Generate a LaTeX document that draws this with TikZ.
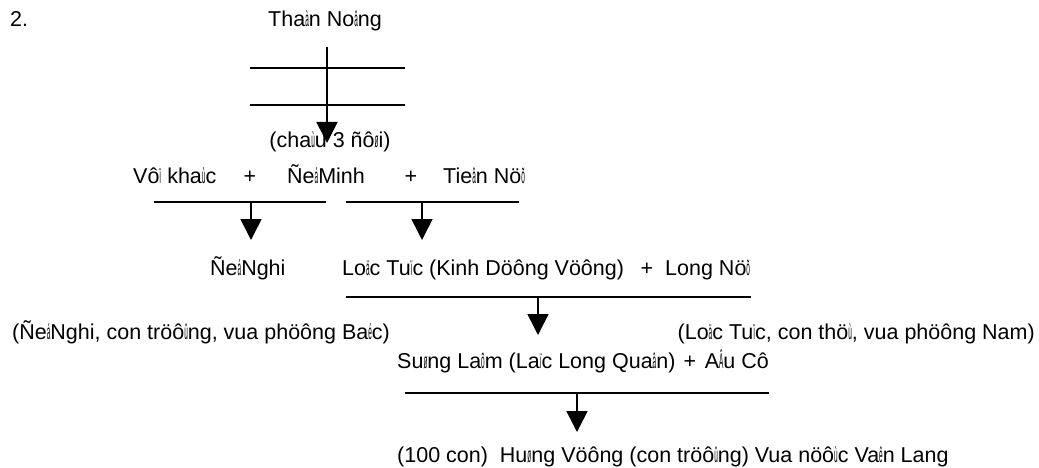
\documentclass[tikz,border=0pt]{standalone}
\usepackage{fontspec}
\usepackage{graphicx}
\setmainfont{Liberation Sans}
\usetikzlibrary{arrows.meta}
% narrow combining-mark glyph of the VNI text
\newcommand\sq[1]{\scalebox{0.3}[1]{#1}}
\begin{document}
\begin{tikzpicture}[x=1pt,y=-1pt,
  lbl/.style={inner sep=0pt,font=\fontsize{21.5}{24}\selectfont},
  bar/.style={line width=1.6pt},
  arr/.style={line width=1.6pt,-{Triangle[width=21pt,length=21pt]}}]
\fill[white] (0,0) rectangle (1039,468);
\useasboundingbox (0,0) rectangle (1039,468);

% generation 0
\node[lbl,anchor=base west] (num) at (10,27) {2.};
\node[lbl,anchor=base] (than) at (325,27) {Tha\sq{à}n No\sq{â}ng};
\coordinate (t0) at (327,47);
\coordinate (b0a) at (250,68);  \coordinate (b0b) at (405,68);
\coordinate (b0c) at (250,105); \coordinate (b0d) at (405,105);
\coordinate (h0) at (327,143);
\draw[bar] (b0a) -- (b0b);
\draw[bar] (b0c) -- (b0d);
\draw[arr] (t0) -- (h0);
\node[lbl,anchor=base] (chau) at (330,148) {(cha\sq{ù}u 3 ñô\sq{ø}i)};

% generation 1
\node[lbl,anchor=base west] (vokhac) at (133,183) {Vô\sq{ï} kha\sq{ù}c};
\node[lbl,anchor=base] (plusa) at (250,183) {+};
\node[lbl,anchor=base west] (deminh) at (287,183) {Ñe\sq{á}Minh};
\node[lbl,anchor=base] (plusb) at (411,183) {+};
\node[lbl,anchor=base west] (tiennu) at (443,183) {Tie\sq{â}n Nö\sq{õ}};

\coordinate (b1a) at (154,202); \coordinate (b1b) at (326,202);
\coordinate (b2a) at (346,202); \coordinate (b2b) at (519,202);
\coordinate (m1) at (251,202);  \coordinate (h1) at (251,240);
\coordinate (m2) at (422,202);  \coordinate (h2) at (422,240);
\draw[bar] (b1a) -- (b1b);
\draw[bar] (b2a) -- (b2b);
\draw[arr] (m1) -- (h1);
\draw[arr] (m2) -- (h2);

% generation 2
\node[lbl,anchor=base west] (denghi) at (210,275) {Ñe\sq{á}Nghi};
\node[lbl,anchor=base west] (loctuc) at (342,275) {Lo\sq{ä}c Tu\sq{ï}c (Kinh Döông Vöông)};
\node[lbl,anchor=base] (plusc) at (647,275) {+};
\node[lbl,anchor=base west] (longnu) at (665,275) {Long Nö\sq{õ}};

\coordinate (b3a) at (346,297); \coordinate (b3b) at (751,297);
\coordinate (m3) at (538,297);  \coordinate (h3) at (538,335);
\draw[bar] (b3a) -- (b3b);
\draw[arr] (m3) -- (h3);

\node[lbl,anchor=base west] (notel) at (12,339) {(Ñe\sq{á}Nghi, con tröô\sq{û}ng, vua phöông Ba\sq{é}c)};
\node[lbl,anchor=base east] (noter) at (1035,339) {(Lo\sq{ä}c Tu\sq{ï}c, con thö\sq{ù}, vua phöông Nam)};

% generation 3
\node[lbl,anchor=base west] (sunglam) at (397,368) {Su\sq{ø}ng La\sq{õ}m (La\sq{ï}c Long Qua\sq{â}n)};
\node[lbl,anchor=base] (plusd) at (690,368) {+};
\node[lbl,anchor=base east] (auco) at (769,368) {A\sq{Â}u Cô};

\coordinate (b4a) at (405,393); \coordinate (b4b) at (769,393);
\coordinate (m4) at (577,393);  \coordinate (h4) at (577,432);
\draw[bar] (b4a) -- (b4b);
\draw[arr] (m4) -- (h4);

% generation 4
\node[lbl,anchor=base west] (hung) at (397,462) {(100 con)\ \ Hu\sq{ø}ng Vöông (con tröô\sq{û}ng) Vua nöô\sq{ù}c Va\sq{ê}n Lang};
\end{tikzpicture}
\end{document}
